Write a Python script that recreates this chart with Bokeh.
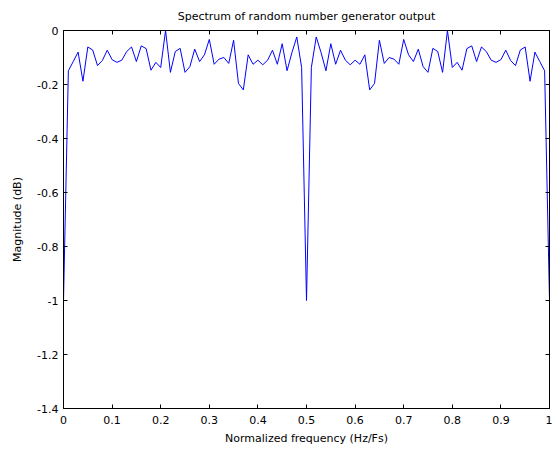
from bokeh.plotting import figure
from bokeh.models import Range1d, LinearAxis, FixedTicker
from bokeh.embed import file_html
from bokeh.resources import INLINE
import numpy as np

# Normalized frequency grid (101 bins from 0 to 1)
freq = np.arange(101) / 100.0

# Magnitude (dB)
magnitude = [
    -1.000, -0.149, -0.115, -0.080, -0.188, -0.061, -0.072, -0.130, -0.111, -0.073,
    -0.108, -0.118, -0.110, -0.078, -0.061, -0.115, -0.057, -0.067, -0.147, -0.118,
    -0.137, 0.000, -0.155, -0.078, -0.066, -0.155, -0.134, -0.069, -0.115, -0.090,
    -0.033, -0.125, -0.106, -0.100, -0.122, -0.036, -0.196, -0.220, -0.090, -0.125,
    -0.110, -0.127, -0.110, -0.073, -0.125, -0.049, -0.149, -0.082, -0.024, -0.137,
    -1.000,
    -0.137, -0.024, -0.082, -0.149, -0.049, -0.125, -0.073, -0.110, -0.127, -0.110,
    -0.125, -0.090, -0.220, -0.196, -0.036, -0.122, -0.100, -0.106, -0.125, -0.033,
    -0.090, -0.115, -0.069, -0.134, -0.155, -0.066, -0.078, -0.155, 0.000, -0.137,
    -0.118, -0.147, -0.067, -0.057, -0.115, -0.061, -0.078, -0.110, -0.118, -0.108,
    -0.073, -0.111, -0.130, -0.072, -0.061, -0.188, -0.080, -0.115, -0.149, -1.000,
]

x_ticks = [0, 0.1, 0.2, 0.3, 0.4, 0.5, 0.6, 0.7, 0.8, 0.9, 1]
x_tick_labels = ["0", "0.1", "0.2", "0.3", "0.4", "0.5", "0.6", "0.7", "0.8", "0.9", "1"]
y_ticks = [-1.4, -1.2, -1.0, -0.8, -0.6, -0.4, -0.2, 0]
y_tick_labels = ["-1.4", "-1.2", "-1", "-0.8", "-0.6", "-0.4", "-0.2", "0"]

FONT = "DejaVu Sans"
FS = "11px"

p = figure(width=552, height=447, output_backend="svg", toolbar_location=None,
           x_range=Range1d(0, 1), y_range=Range1d(-1.4, 0),
           title="Spectrum of random number generator output",
           x_axis_label="Normalized frequency (Hz/Fs)", y_axis_label="Magnitude (dB)")
p.min_border_left = 63
p.min_border_right = 3
p.min_border_top = 29
p.min_border_bottom = 37
p.background_fill_color = "white"
p.border_fill_color = "white"
p.outline_line_color = "black"
p.outline_line_width = 1
p.xgrid.visible = False
p.ygrid.visible = False

p.title.align = "center"
p.title.text_font = FONT
p.title.text_font_size = FS
p.title.text_font_style = "normal"
p.title.text_color = "black"
p.title.standoff = 15

def style_axis(ax, ticks, labels, show_labels=True):
    ax.ticker = FixedTicker(ticks=ticks)
    ax.major_label_overrides = {t: (l if show_labels else "") for t, l in zip(ticks, labels)}
    ax.major_tick_in = 4
    ax.major_tick_out = 0
    ax.minor_tick_line_color = None
    ax.axis_line_color = "black"
    ax.major_tick_line_color = "black"
    ax.major_label_text_font = FONT
    ax.major_label_text_font_size = FS
    ax.major_label_text_color = "black"
    ax.axis_label_text_font = FONT
    ax.axis_label_text_font_size = FS
    ax.axis_label_text_font_style = "normal"
    ax.axis_label_text_color = "black"

style_axis(p.xaxis[0], x_ticks, x_tick_labels)
style_axis(p.yaxis[0], y_ticks, y_tick_labels)
p.xaxis[0].major_label_standoff = 7
p.yaxis[0].major_label_standoff = 5
p.xaxis[0].axis_label_standoff = 5
p.yaxis[0].axis_label_standoff = 10

top_axis = LinearAxis()
style_axis(top_axis, x_ticks, x_tick_labels, show_labels=False)
top_axis.major_label_text_font_size = "0px"
top_axis.major_label_standoff = 0
top_axis.axis_label = None
p.add_layout(top_axis, "above")

right_axis = LinearAxis()
style_axis(right_axis, y_ticks, y_tick_labels, show_labels=False)
right_axis.major_label_text_font_size = "0px"
right_axis.major_label_standoff = 0
right_axis.axis_label = None
p.add_layout(right_axis, "right")

p.line(freq, magnitude, line_color="#0000ff", line_width=1)

open("out.html", "w").write(file_html(p, INLINE))
